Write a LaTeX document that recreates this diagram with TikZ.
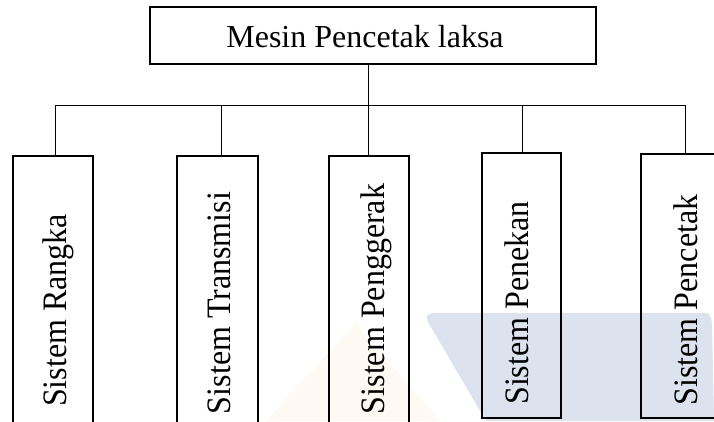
\documentclass[tikz,border=0pt]{standalone}
\usepackage{fontspec}
\setmainfont{Liberation Serif}
\begin{document}
\begin{tikzpicture}[x=1pt,y=-1pt,
  boxstyle/.style={draw=black,line width=1.3pt,fill=none,rectangle,inner sep=0pt},
  conn/.style={draw=black,line width=0.8pt},
  vlabel/.style={rotate=90,yscale=1.07,anchor=base,inner sep=0pt,font=\fontsize{32}{38}\selectfont},
  toplabel/.style={anchor=base,inner sep=0pt,font=\fontsize{32}{38}\selectfont}]
\useasboundingbox (0,0) rectangle (714,421);
\clip (0,0) rectangle (714,421);
\fill[white] (0,0) rectangle (714,421);
% faint watermark
\definecolor{wmblue}{HTML}{DCE3EE}
\definecolor{wmcream}{HTML}{FEFAF3}
\fill[wmcream] (266,421) -- (356,323) -- (440,421) -- cycle;
\fill[wmblue] (436,313) -- (700,313) .. controls (710,313) .. (712,323) -- (714,421) -- (486,421) -- (428,322) .. controls (426,314) .. cycle;
% boxes
\node[boxstyle,minimum width=446pt,minimum height=57pt] (top) at (373,35.5) {};
\node[toplabel] (toptext) at (365,47) {Mesin Pencetak laksa};
\node[boxstyle,minimum width=80pt,minimum height=284pt] (b1) at (53,298) {};
\node[boxstyle,minimum width=81pt,minimum height=284pt] (b2) at (217.5,298) {};
\node[boxstyle,minimum width=80pt,minimum height=284pt] (b3) at (369,298) {};
\node[boxstyle,minimum width=79pt,minimum height=265pt] (b4) at (521.5,285.5) {};
\node[boxstyle,minimum width=90pt,minimum height=264pt] (b5) at (686,286) {};
\node[vlabel] (t1) at (66,310.5) {Sistem Rangka};
\node[vlabel] (t2) at (230,303) {Sistem Transmisi};
\node[vlabel] (t3) at (384,299) {Sistem Penggerak};
\node[vlabel] (t4) at (528,303) {Sistem Penekan};
\node[vlabel] (t5) at (697,300) {Sistem Pencetak};
% connectors
\coordinate (hub) at (368,105);
\coordinate (j1) at (55,105);
\coordinate (j2) at (221,105);
\coordinate (j3) at (368,105);
\coordinate (j4) at (522,105);
\coordinate (j5) at (685,105);
\draw[conn] (top.south -| hub) -- (hub);
\draw[conn] (j1) -- (j5);
\draw[conn] (j1) -- (j1 |- b1.north);
\draw[conn] (j2) -- (j2 |- b2.north);
\draw[conn] (j3) -- (j3 |- b3.north);
\draw[conn] (j4) -- (j4 |- b4.north);
\draw[conn] (j5) -- (j5 |- b5.north);
\end{tikzpicture}
\end{document}
